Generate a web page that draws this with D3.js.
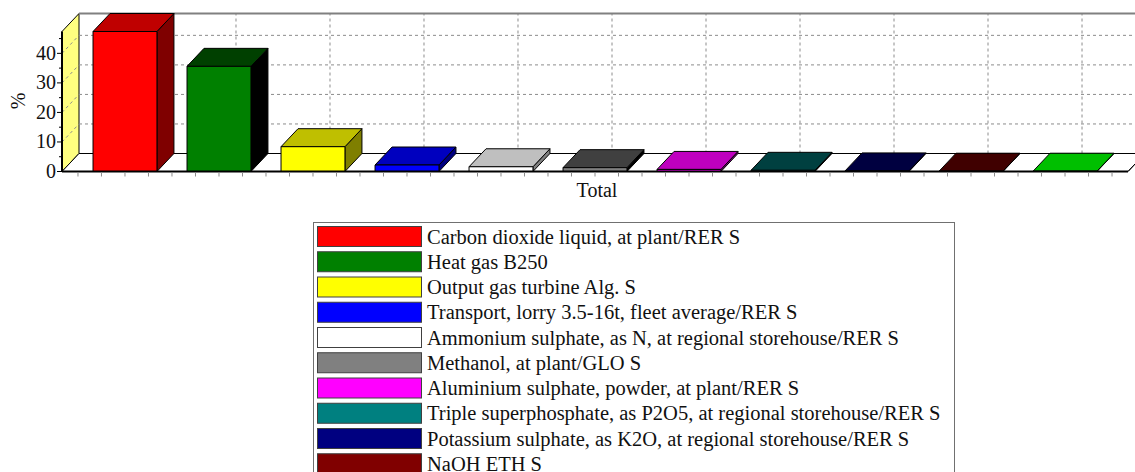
<!DOCTYPE html>
<html>
<head>
<meta charset="utf-8">
<script src="https://cdn.jsdelivr.net/npm/d3@7"></script>
<style>
  html, body { margin: 0; padding: 0; background: #fff; }
  svg { display: block; }
  .serif { font-family: "Liberation Serif", "Times New Roman", serif; }
</style>
</head>
<body>
<svg id="chart" width="1135" height="472"></svg>
<script>
// Process contributions (%), one bar per process, all within the "Total" group
const processes = [
  "Carbon dioxide liquid, at plant/RER S",
  "Heat gas B250",
  "Output gas turbine Alg. S",
  "Transport, lorry 3.5-16t, fleet average/RER S",
  "Ammonium sulphate, as N, at regional storehouse/RER S",
  "Methanol, at plant/GLO S",
  "Aluminium sulphate, powder, at plant/RER S",
  "Triple superphosphate, as P2O5, at regional storehouse/RER S",
  "Potassium sulphate, as K2O, at regional storehouse/RER S",
  "NaOH ETH S",
  ""
];
const shares = [47.4, 35.6, 8.4, 2.2, 1.6, 1.3, 0.7, 0.4, 0.2, 0.1, 0.1];
const colors = ["#ff0000", "#008000", "#ffff00", "#0000ff", "#ffffff", "#808080",
                "#ff00ff", "#008080", "#000080", "#800000", "#00ff00"];
const yTicks = [0, 10, 20, 30, 40];
const groupLabel = "Total";
const yLabel = "%";

const svg = d3.select("#chart");

// 3D box geometry
const pLeft = 62, pRight = 1128, pBase = 171.5, pTop = 31.5;
const DX = 17, DY = 18;

const x = d3.scaleBand().domain(d3.range(processes.length))
  .range([pLeft, pRight]).paddingInner(0.32).paddingOuter(0.33);
const y = d3.scaleLinear().domain([0, d3.max(shares)]).range([pBase, pTop]);

// darken a colour by subtracting a fixed amount per channel
function shade(c, amt) {
  const r = d3.rgb(c);
  return d3.rgb(Math.max(0, r.r - amt), Math.max(0, r.g - amt), Math.max(0, r.b - amt)).formatHex();
}

const gridStroke = "#8c8c8c";

// left side wall
svg.append("polygon")
  .attr("points", [[pLeft, pBase], [pLeft + DX, pBase - DY], [pLeft + DX, pTop - DY], [pLeft, pTop]].join(" "))
  .attr("fill", "#ffff80").attr("stroke", "#000").attr("stroke-width", 1);

// grid on side wall and back wall
yTicks.filter(t => t > 0).forEach(t => {
  svg.append("line")
    .attr("x1", pLeft).attr("y1", y(t)).attr("x2", pLeft + DX).attr("y2", y(t) - DY)
    .attr("stroke", gridStroke).attr("stroke-dasharray", "3,3");
  svg.append("line")
    .attr("x1", pLeft + DX).attr("y1", y(t) - DY).attr("x2", pRight + DX).attr("y2", y(t) - DY)
    .attr("stroke", gridStroke).attr("stroke-dasharray", "3,3");
});
processes.forEach((p, i) => {
  const cx = x(i) + x.bandwidth() / 2 + DX;
  svg.append("line")
    .attr("x1", cx).attr("y1", pBase - DY).attr("x2", cx).attr("y2", pTop - DY)
    .attr("stroke", gridStroke).attr("stroke-dasharray", "3,3");
});

// back wall top edge
svg.append("line")
  .attr("x1", pLeft + DX).attr("y1", pTop - DY).attr("x2", pRight + DX).attr("y2", pTop - DY)
  .attr("stroke", "#808080").attr("stroke-width", 2);

// floor
svg.append("polygon")
  .attr("points", [[pLeft, pBase], [pRight, pBase], [pRight + DX, pBase - DY], [pLeft + DX, pBase - DY]].join(" "))
  .attr("fill", "#fff").attr("stroke", "#000").attr("stroke-width", 1);

// bars
const bars = svg.append("g");
shares.forEach((v, i) => {
  const bx = x(i), bw = x.bandwidth(), ty = y(v);
  const g = bars.append("g").attr("stroke", "#000").attr("stroke-width", 1).attr("stroke-linejoin", "round");
  g.append("polygon")
    .attr("points", [[bx + bw, ty], [bx + bw + DX, ty - DY], [bx + bw + DX, pBase - DY], [bx + bw, pBase]].join(" "))
    .attr("fill", shade(colors[i], 0x80));
  g.append("polygon")
    .attr("points", [[bx, ty], [bx + DX, ty - DY], [bx + bw + DX, ty - DY], [bx + bw, ty]].join(" "))
    .attr("fill", shade(colors[i], 0x40));
  g.append("rect")
    .attr("x", bx).attr("y", ty).attr("width", bw).attr("height", pBase - ty)
    .attr("fill", colors[i]);
});

// front floor edge and value axis
svg.append("line").attr("x1", pLeft).attr("y1", pBase).attr("x2", pRight).attr("y2", pBase)
  .attr("stroke", "#000").attr("stroke-width", 2);
svg.append("line").attr("x1", pRight).attr("y1", pBase).attr("x2", pRight + DX).attr("y2", pBase - DY)
  .attr("stroke", "#000").attr("stroke-width", 1);
svg.append("line").attr("x1", pLeft).attr("y1", pTop).attr("x2", pLeft).attr("y2", pBase)
  .attr("stroke", "#000").attr("stroke-width", 2);

// y ticks and labels
d3.range(0, d3.max(shares), 5).forEach(t => {
  const major = t % 10 === 0;
  svg.append("line").attr("x1", pLeft - (major ? 5 : 3)).attr("x2", pLeft)
    .attr("y1", y(t)).attr("y2", y(t)).attr("stroke", "#000");
});
svg.append("g").selectAll("text").data(yTicks).join("text")
  .attr("class", "serif")
  .attr("x", 56).attr("y", d => y(d) + 6.5)
  .attr("text-anchor", "end").attr("font-size", 20).attr("fill", "#111")
  .text(d => d);

// x minor ticks along the floor edge
const step = x.step();
const c0 = x(0) + x.bandwidth() / 2 - step / 2;
d3.range(0, processes.length * 4 + 1).forEach(k => {
  const tx = c0 + k * step / 4;
  svg.append("line").attr("x1", tx).attr("x2", tx).attr("y1", pBase + 1).attr("y2", pBase + 5)
    .attr("stroke", "#8c8c8c");
});

// axis titles
svg.append("text").attr("class", "serif").attr("x", (pLeft + pRight) / 2 + 2).attr("y", 197)
  .attr("text-anchor", "middle").attr("font-size", 20).attr("fill", "#111")
  .text(groupLabel);
svg.append("text").attr("class", "serif")
  .attr("transform", "translate(25,101) rotate(-90)")
  .attr("text-anchor", "middle").attr("font-size", 20).attr("fill", "#111")
  .text(yLabel);

// legend
const lg = svg.append("g");
lg.append("rect").attr("x", 313.5).attr("y", 222.5).attr("width", 641).attr("height", 300)
  .attr("fill", "#fff").attr("stroke", "#707070");
processes.forEach((p, i) => {
  const ry = 226 + i * 25.25;
  lg.append("rect").attr("x", 317.5).attr("y", ry + 0.5).attr("width", 104).attr("height", 20)
    .attr("fill", colors[i]).attr("stroke", "#404040");
  lg.append("text").attr("class", "serif").attr("x", 427).attr("y", ry + 17.5)
    .attr("font-size", 20.5).attr("fill", "#111").text(p);
});
</script>
</body>
</html>
